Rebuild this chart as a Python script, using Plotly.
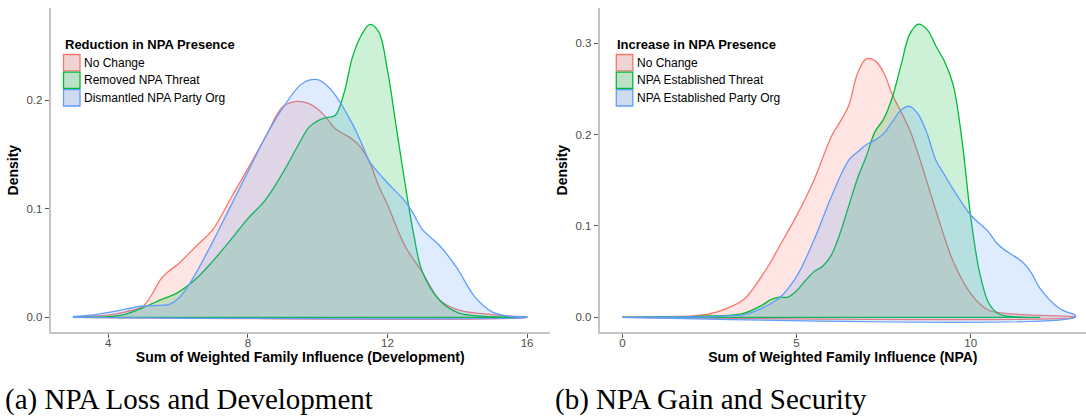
import plotly.graph_objects as go

W, H = 1086, 418

# ---------------- data ----------------
group_names_a = ["No Change", "Removed NPA Threat", "Dismantled NPA Party Org"]
group_names_b = ["No Change", "NPA Established Threat", "NPA Established Party Org"]
legend_title_a = "Reduction in NPA Presence"
legend_title_b = "Increase in NPA Presence"
xtitle_a = "Sum of Weighted Family Influence (Development)"
xtitle_b = "Sum of Weighted Family Influence (NPA)"
ytitle = "Density"
caption_a = "(a) NPA Loss and Development"
caption_b = "(b) NPA Gain and Security"

xticks_a = [4, 8, 12, 16]
yticks_a = [0.0, 0.1, 0.2]
xticks_b = [0, 5, 10]
yticks_b = [0.0, 0.1, 0.2, 0.3]

# Panel (a): Development
dev_x_nochange = [3.0, 3.5, 4.0, 4.5, 5.0, 5.25, 5.5, 5.75, 6.0, 6.5, 7.0, 7.5, 8.0, 8.5, 9.0, 9.4,
                  9.75, 10.0, 10.25, 10.5, 10.75, 11.0, 11.25, 11.5, 11.75, 12.0, 12.5, 13.0, 13.5,
                  14.0, 14.5, 15.0, 15.5, 16.0]
dev_y_nochange = [0.0005, 0.001, 0.002, 0.005, 0.0105, 0.021, 0.035, 0.043, 0.049, 0.065, 0.081, 0.109,
                  0.137, 0.166, 0.194, 0.199, 0.197, 0.192, 0.184, 0.174, 0.169, 0.164, 0.156, 0.142,
                  0.121, 0.104, 0.066, 0.0415, 0.016, 0.007, 0.004, 0.0025, 0.001, 0.0003]

dev_x_threat = [3.0, 3.5, 4.0, 4.5, 5.0, 5.5, 6.0, 6.5, 7.0, 7.5, 8.0, 8.5, 9.0, 9.5, 9.75, 10.0,
                10.25, 10.5, 10.75, 11.0, 11.25, 11.5, 11.75, 12.0, 12.25, 12.5, 12.75, 13.0, 13.5,
                14.0, 14.5, 15.0, 15.5, 16.0]
dev_y_threat = [0.0, 0.0002, 0.0006, 0.003, 0.009, 0.016, 0.023, 0.035, 0.052, 0.071, 0.091, 0.108,
                0.133, 0.162, 0.175, 0.181, 0.184, 0.186, 0.206, 0.240, 0.260, 0.270, 0.263, 0.228,
                0.176, 0.124, 0.077, 0.042, 0.0155, 0.0046, 0.0015, 0.0005, 0.0001, 0.0]

dev_x_party = [3.0, 3.5, 4.0, 4.5, 5.0, 5.5, 5.75, 6.0, 6.25, 6.5, 7.0, 7.5, 8.0, 8.5, 9.0, 9.5,
               9.75, 10.0, 10.25, 10.5, 11.0, 11.25, 11.5, 12.0, 12.5, 12.75, 13.0, 13.5, 14.0,
               14.5, 15.0, 15.5, 16.0]
dev_y_party = [0.0008, 0.002, 0.0045, 0.0075, 0.0105, 0.011, 0.012, 0.017, 0.027, 0.040, 0.070, 0.102,
               0.134, 0.166, 0.193, 0.214, 0.2185, 0.219, 0.214, 0.205, 0.178, 0.161, 0.143, 0.124,
               0.107, 0.095, 0.081, 0.066, 0.045, 0.019, 0.005, 0.001, 0.0002]

# Panel (b): NPA
npa_x_nochange = [0.0, 0.5, 1.0, 1.5, 2.0, 2.5, 3.0, 3.5, 4.0, 4.25, 4.5, 5.0, 5.5, 6.0, 6.25, 6.5,
                  6.75, 7.0, 7.25, 7.5, 7.75, 8.0, 8.25, 8.5, 9.0, 9.5, 10.0, 10.5, 11.0, 11.5, 12.0,
                  12.5, 13.0]
npa_y_nochange = [0.0003, 0.0005, 0.0007, 0.001, 0.0015, 0.0036, 0.0098, 0.020, 0.045, 0.060, 0.077,
                  0.111, 0.150, 0.198, 0.214, 0.232, 0.267, 0.283, 0.281, 0.268, 0.244, 0.225, 0.205,
                  0.178, 0.117, 0.061, 0.026, 0.008, 0.0044, 0.003, 0.002, 0.0015, 0.0005]

npa_x_threat = [0.0, 1.0, 1.5, 2.0, 2.5, 3.0, 3.5, 4.0, 4.25, 4.5, 4.75, 5.0, 5.25, 5.5, 5.75, 6.0,
                6.25, 6.5, 6.75, 7.0, 7.25, 7.5, 7.75, 8.0, 8.25, 8.5, 8.75, 9.0, 9.25, 9.5, 9.75,
                10.0, 10.25, 10.5, 10.75, 11.0, 11.5, 12.0]
npa_y_threat = [0.0, 0.0003, 0.0005, 0.0008, 0.0015, 0.002, 0.0045, 0.013, 0.019, 0.022, 0.022, 0.029,
                0.040, 0.050, 0.056, 0.068, 0.092, 0.122, 0.152, 0.176, 0.203, 0.217, 0.241, 0.276,
                0.310, 0.321, 0.315, 0.297, 0.280, 0.254, 0.194, 0.110, 0.050, 0.017, 0.005, 0.0015,
                0.0002, 0.0]

npa_x_party = [0.0, 1.0, 2.0, 2.5, 3.0, 3.5, 4.0, 4.5, 5.0, 5.5, 6.0, 6.5, 6.75, 7.0, 7.25, 7.5, 7.75,
               8.0, 8.25, 8.5, 8.75, 9.0, 9.25, 9.5, 10.0, 10.5, 10.75, 11.0, 11.25, 11.5, 11.75, 12.0,
               12.5, 12.75, 13.0]
npa_y_party = [0.0002, 0.0002, 0.0003, 0.0005, 0.0015, 0.003, 0.0098, 0.021, 0.0445, 0.0845, 0.132,
               0.172, 0.181, 0.189, 0.194, 0.201, 0.214, 0.227, 0.231, 0.222, 0.201, 0.172, 0.156,
               0.140, 0.112, 0.094, 0.081, 0.073, 0.067, 0.060, 0.048, 0.031, 0.011, 0.006, 0.0025]

# ---------------- styles ----------------
line_colors = ["#F8766D", "#00BA38", "#619CFF"]
fill_colors = ["rgba(248,118,109,0.2)", "rgba(0,186,56,0.2)", "rgba(97,156,255,0.2)"]
key_colors = ["rgb(238,212,210)", "rgb(188,225,199)", "rgb(207,219,239)"]
FONT = "Liberation Sans, Arial, sans-serif"


def px_x(p):
    return p / W


def px_y(p):
    return 1 - p / H


fig = go.Figure()

panels = [
    ("x", "y", [(dev_x_nochange, dev_y_nochange), (dev_x_threat, dev_y_threat), (dev_x_party, dev_y_party)], group_names_a),
    ("x2", "y2", [(npa_x_nochange, npa_y_nochange), (npa_x_threat, npa_y_threat), (npa_x_party, npa_y_party)], group_names_b),
]
for xa, ya, series, names in panels:
    for i, ((xs, ys), nm) in enumerate(zip(series, names)):
        # closed density polygon (curve + baseline), like geom_density
        px = list(xs) + [xs[-1], xs[0]]
        py = list(ys) + [0, 0]
        fig.add_trace(go.Scatter(
            x=px, y=py, name=nm, xaxis=xa, yaxis=ya, mode="lines",
            line=dict(color=line_colors[i], width=1.3, shape="spline", smoothing=1.0),
            fill="toself", fillcolor=fill_colors[i], showlegend=False,
            hoverinfo="skip",
        ))

ydom = [px_y(332), px_y(8.3)]
axis_common = dict(
    showline=True, linecolor="#c4c4c4", linewidth=2, showgrid=False, zeroline=False,
    ticks="outside", ticklen=4, tickwidth=1.2, tickcolor="#555555",
    tickfont=dict(family=FONT, size=11.5, color="#4d4d4d"),
    title_font=dict(family=FONT, size=14, color="black", weight="bold"),
)

fig.update_layout(
    width=W, height=H, margin=dict(l=0, r=0, t=0, b=0),
    paper_bgcolor="white", plot_bgcolor="white",
    xaxis=dict(domain=[px_x(50.7), px_x(549.7)], range=[2.35, 16.65], tickvals=xticks_a,
               ticktext=[str(v) for v in xticks_a], anchor="y", ticklabelstandoff=-5,
               title=dict(text=xtitle_a, standoff=1), **axis_common),
    yaxis=dict(domain=ydom, range=[-0.01355, 0.2848], tickvals=yticks_a,
               ticktext=[f"{v:.1f}" for v in yticks_a], anchor="x",
               title=dict(text=ytitle, standoff=4), **axis_common),
    xaxis2=dict(domain=[px_x(599.7), 1.0], range=[-0.65, 13.31], tickvals=xticks_b,
                ticktext=[str(v) for v in xticks_b], anchor="y2", ticklabelstandoff=-5,
                title=dict(text=xtitle_b, standoff=1), **axis_common),
    yaxis2=dict(domain=ydom, range=[-0.0161, 0.3383], tickvals=yticks_b,
                ticktext=[f"{v:.1f}" for v in yticks_b], anchor="x2",
                title=dict(text=ytitle, standoff=4), **axis_common),
    font=dict(family=FONT),
)

# ---------------- legends (ggplot-style keys inside panels) ----------------
shapes = []
annotations = []
for x0, title, names in [(63.5, legend_title_a, group_names_a), (616.3, legend_title_b, group_names_b)]:
    annotations.append(dict(
        text=title, xref="paper", yref="paper", x=px_x(x0 - 1), y=px_y(45), xanchor="left",
        yanchor="middle", showarrow=False, font=dict(family=FONT, size=13, color="black", weight="bold"),
    ))
    for i, nm in enumerate(names):
        top = 54.5 + i * 17.6
        shapes.append(dict(
            type="rect", xref="paper", yref="paper", x0=px_x(x0), x1=px_x(x0 + 16.5),
            y0=px_y(top + 16.3), y1=px_y(top), fillcolor=key_colors[i],
            line=dict(color=line_colors[i], width=1.3),
        ))
        annotations.append(dict(
            text=nm, xref="paper", yref="paper", x=px_x(x0 + 18.5), y=px_y(top + 8.3),
            xanchor="left", yanchor="middle", showarrow=False,
            font=dict(family=FONT, size=12, color="black"),
        ))

# captions
for xpos, cap in [(3, caption_a), (553, caption_b)]:
    annotations.append(dict(
        text=cap, xref="paper", yref="paper", x=px_x(xpos), y=px_y(399), xanchor="left",
        yanchor="middle", showarrow=False,
        font=dict(family="Liberation Serif, Times New Roman, serif", size=29, color="black"),
    ))

fig.update_layout(shapes=shapes, annotations=annotations)
fig.write_html("out.html")
